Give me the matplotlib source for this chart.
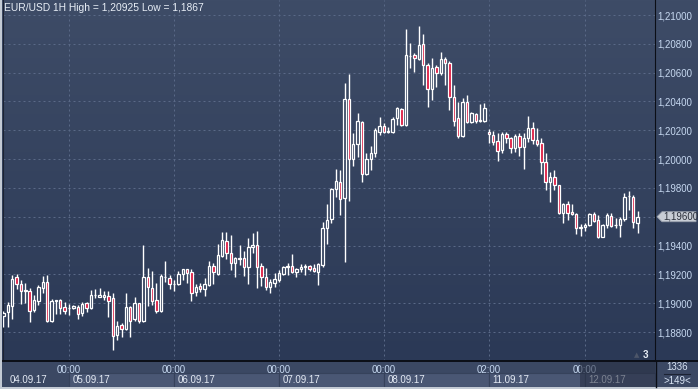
import numpy as np
import matplotlib
matplotlib.use("Agg")
import matplotlib.pyplot as plt
from matplotlib.patches import Rectangle, Polygon
from matplotlib.colors import LinearSegmentedColormap

plt.rcParams['font.family'] = ['Liberation Sans', 'DejaVu Sans']

# EUR/USD hourly candles, 04.09.17 09:00 .. 12.09.17
opens = [
    1.18910, 1.18941, 1.18983, 1.19180, 1.19133, 1.19087, 1.19085, 1.18953, 1.19017, 1.19107,
    1.19147, 1.18878, 1.19015, 1.19020, 1.18974, 1.18964, 1.18964, 1.18976, 1.18930, 1.19003,
    1.18967, 1.19055, 1.19045, 1.19041, 1.19048, 1.19034, 1.18779, 1.18849, 1.18819, 1.18971,
    1.18888, 1.18999, 1.18878, 1.19180, 1.19103, 1.19022, 1.18946, 1.19180, 1.19173, 1.19131,
    1.19131, 1.19203, 1.19235, 1.19218, 1.19080, 1.19119, 1.19096, 1.19126, 1.19258, 1.19203,
    1.19327, 1.19434, 1.19346, 1.19277, 1.19310, 1.19311, 1.19249, 1.19388, 1.19404, 1.19258,
    1.19180, 1.19110, 1.19142, 1.19161, 1.19203, 1.19253, 1.19258, 1.19218, 1.19235, 1.19253,
    1.19258, 1.19242, 1.19218, 1.19265, 1.19520, 1.19582, 1.19790, 1.19843, 1.19728, 1.20415,
    1.19999, 1.20105, 1.20257, 1.19897, 1.19999, 1.20040, 1.20190, 1.20230, 1.20190, 1.20190,
    1.20283, 1.20346, 1.20237, 1.20715, 1.20722, 1.20693, 1.20799, 1.20653, 1.20484, 1.20637,
    1.20595, 1.20693, 1.20665, 1.20429, 1.20283, 1.20160, 1.20398, 1.20260, 1.20313, 1.20266,
    1.20266, 1.20186, 1.20167, 1.20128, 1.20063, 1.20174, 1.20144, 1.20075, 1.20160, 1.20082,
    1.20144, 1.20214, 1.20133, 1.20114, 1.19980, 1.19839, 1.19874, 1.19818, 1.19624, 1.19688,
    1.19631, 1.19619, 1.19524, 1.19527, 1.19543, 1.19619, 1.19577, 1.19461, 1.19543, 1.19605,
    1.19543, 1.19543, 1.19582, 1.19742, 1.19739, 1.19559,
]
highs = [
    1.18945, 1.19010, 1.19196, 1.19203, 1.19161, 1.19140, 1.19103, 1.19057, 1.19126, 1.19189,
    1.19194, 1.19027, 1.19022, 1.19027, 1.19010, 1.18994, 1.18987, 1.18985, 1.19010, 1.19010,
    1.19092, 1.19096, 1.19103, 1.19085, 1.19087, 1.19069, 1.18878, 1.18860, 1.19069, 1.18980,
    1.19041, 1.19003, 1.19404, 1.19242, 1.19223, 1.19138, 1.19203, 1.19293, 1.19196, 1.19161,
    1.19223, 1.19235, 1.19237, 1.19235, 1.19131, 1.19142, 1.19173, 1.19293, 1.19277, 1.19409,
    1.19496, 1.19496, 1.19473, 1.19318, 1.19404, 1.19364, 1.19450, 1.19485, 1.19503, 1.19281,
    1.19242, 1.19166, 1.19212, 1.19230, 1.19258, 1.19277, 1.19341, 1.19242, 1.19272, 1.19272,
    1.19265, 1.19272, 1.19277, 1.19566, 1.19688, 1.19797, 1.19929, 1.19924, 1.20530, 1.20591,
    1.20179, 1.20318, 1.20264, 1.20040, 1.20091, 1.20214, 1.20290, 1.20248, 1.20221, 1.20290,
    1.20359, 1.20353, 1.20901, 1.20808, 1.20734, 1.20925, 1.20868, 1.20665, 1.20699, 1.20653,
    1.20743, 1.20706, 1.20683, 1.20514, 1.20398, 1.20422, 1.20445, 1.20329, 1.20322, 1.20382,
    1.20391, 1.20207, 1.20197, 1.20183, 1.20190, 1.20190, 1.20155, 1.20174, 1.20183, 1.20179,
    1.20299, 1.20260, 1.20214, 1.20144, 1.20044, 1.19913, 1.19924, 1.19820, 1.19697, 1.19711,
    1.19688, 1.19628, 1.19550, 1.19554, 1.19628, 1.19635, 1.19612, 1.19550, 1.19624, 1.19628,
    1.19589, 1.19596, 1.19767, 1.19781, 1.19751, 1.19643,
]
lows = [
    1.18837, 1.18837, 1.18890, 1.19098, 1.18992, 1.19001, 1.18872, 1.18941, 1.18987, 1.19073,
    1.18872, 1.18869, 1.18925, 1.18925, 1.18925, 1.18918, 1.18958, 1.18892, 1.18913, 1.18941,
    1.18960, 1.19034, 1.19041, 1.19022, 1.18906, 1.18675, 1.18745, 1.18767, 1.18814, 1.18767,
    1.18878, 1.18860, 1.18872, 1.18980, 1.18987, 1.18930, 1.18941, 1.19149, 1.19096, 1.19087,
    1.19126, 1.19161, 1.19142, 1.19017, 1.19050, 1.19080, 1.19050, 1.19119, 1.19133, 1.19196,
    1.19318, 1.19304, 1.19230, 1.19180, 1.19265, 1.19189, 1.19133, 1.19346, 1.19103, 1.19119,
    1.19092, 1.19073, 1.19110, 1.19149, 1.19196, 1.19196, 1.19212, 1.19180, 1.19218, 1.19196,
    1.19225, 1.19218, 1.19126, 1.19253, 1.19411, 1.19559, 1.19735, 1.19612, 1.19288, 1.19711,
    1.19952, 1.20012, 1.19843, 1.19890, 1.19924, 1.20012, 1.20167, 1.20179, 1.20179, 1.20183,
    1.20237, 1.20230, 1.20230, 1.20630, 1.20607, 1.20688, 1.20514, 1.20364, 1.20410, 1.20502,
    1.20584, 1.20514, 1.20341, 1.20230, 1.20144, 1.20155, 1.20248, 1.20248, 1.20248, 1.20260,
    1.20260, 1.20110, 1.20098, 1.19989, 1.20044, 1.20110, 1.20040, 1.20051, 1.20021, 1.19929,
    1.20121, 1.20103, 1.20091, 1.19897, 1.19786, 1.19704, 1.19786, 1.19619, 1.19559, 1.19577,
    1.19612, 1.19480, 1.19466, 1.19503, 1.19536, 1.19566, 1.19450, 1.19457, 1.19520, 1.19527,
    1.19520, 1.19457, 1.19572, 1.19647, 1.19520, 1.19485,
]
closes = [
    1.18930, 1.18987, 1.19166, 1.19131, 1.19087, 1.19092, 1.18948, 1.19022, 1.19114, 1.19147,
    1.18874, 1.19017, 1.19020, 1.18964, 1.18948, 1.18967, 1.18980, 1.18925, 1.18994, 1.18964,
    1.19057, 1.19057, 1.19057, 1.19057, 1.19017, 1.18774, 1.18842, 1.18819, 1.18971, 1.18878,
    1.18999, 1.18878, 1.19180, 1.19110, 1.19017, 1.18948, 1.19189, 1.19182, 1.19131, 1.19133,
    1.19203, 1.19235, 1.19212, 1.19073, 1.19110, 1.19096, 1.19131, 1.19258, 1.19214, 1.19334,
    1.19439, 1.19346, 1.19277, 1.19311, 1.19311, 1.19249, 1.19388, 1.19404, 1.19253, 1.19180,
    1.19110, 1.19149, 1.19166, 1.19207, 1.19253, 1.19255, 1.19218, 1.19235, 1.19253, 1.19255,
    1.19235, 1.19225, 1.19272, 1.19520, 1.19577, 1.19790, 1.19850, 1.19721, 1.20415, 1.19999,
    1.20105, 1.20264, 1.19897, 1.19999, 1.20040, 1.20202, 1.20230, 1.20190, 1.20192, 1.20276,
    1.20353, 1.20237, 1.20722, 1.20717, 1.20699, 1.20792, 1.20653, 1.20484, 1.20630, 1.20600,
    1.20693, 1.20665, 1.20429, 1.20266, 1.20160, 1.20398, 1.20260, 1.20318, 1.20266, 1.20268,
    1.20353, 1.20172, 1.20121, 1.20058, 1.20174, 1.20144, 1.20075, 1.20160, 1.20082, 1.20144,
    1.20214, 1.20133, 1.20105, 1.19980, 1.19839, 1.19874, 1.19820, 1.19624, 1.19688, 1.19624,
    1.19617, 1.19520, 1.19526, 1.19543, 1.19619, 1.19572, 1.19461, 1.19543, 1.19612, 1.19536,
    1.19545, 1.19582, 1.19739, 1.19745, 1.19566, 1.19600,
]

# bar index of each midnight (or first bar of the day) and its labels
day_idx = [15, 39, 63, 87, 111, 133]
time_labels = ["00:00", "00:00", "00:00", "00:00", "02:00", "00:00"]
date_labels = ["04.09.17", "05.09.17", "06.09.17", "07.09.17", "08.09.17", "11.09.17", "12.09.17"]
price_ticks = [1.188, 1.190, 1.192, 1.194, 1.196, 1.198, 1.200, 1.202, 1.204, 1.206, 1.208, 1.210]

title = "EUR/USD 1H High = 1,20925 Low = 1,1867"
bars_total = 1336
bars_visible = 149

W, H = 698, 389
fig = plt.figure(figsize=(W / 100, H / 100), dpi=100)

# background
bg = fig.add_axes([0, 0, 1, 1], zorder=-1)
cmap = LinearSegmentedColormap.from_list('bg', ['#3e4c67', '#2b3956'])
bg.imshow(np.linspace(0, 1, 256).reshape(-1, 1), extent=[0, W, 361, 0], aspect='auto', cmap=cmap)
bg.add_patch(Rectangle((0, 361), W, 28, color='#3b4863'))
bg.set_xlim(0, W)
bg.set_ylim(H, 0)
bg.axis('off')

# main chart
ax = fig.add_axes([3 / W, 28 / H, 652 / W, 361 / H])
ax.patch.set_alpha(0)

o = np.array(opens)
h = np.array(highs)
l = np.array(lows)
c = np.array(closes)
x = np.arange(len(o))
up = c >= o
top = np.maximum(o, c)
bot = np.minimum(o, c)

ax.vlines(x, top, h, color='white', lw=1, zorder=3)
ax.vlines(x, l, bot, color='white', lw=1, zorder=3)
ax.bar(x[up], (top - bot)[up], bottom=bot[up], width=0.55, facecolor='none',
       edgecolor='white', linewidth=0.9, zorder=3)
ax.bar(x[~up], (top - bot)[~up], bottom=bot[~up], width=0.55, facecolor='#dc143c',
       edgecolor='white', linewidth=0.9, zorder=3)

ax.set_xlim(-0.1, 149.0)
ax.set_ylim(1.185988, 1.211041)

ax.set_xticks(day_idx)
ax.set_xticklabels(time_labels)
ax.yaxis.tick_right()
ax.set_yticks(price_ticks)
ax.set_yticklabels(['' if abs(v - closes[-1]) < 1e-6 else f"{v:.5f}".replace('.', ',')
                    for v in price_ticks])
ax.tick_params(axis='x', length=0, pad=2.6, colors='#c6d8f0', labelsize=7)
ax.tick_params(axis='y', length=0, pad=2, colors='#c6d8f0', labelsize=7)
ax.grid(True, color='#5a6987', lw=0.72, ls=(0, (2, 3)))
ax.set_axisbelow(True)

ax.spines['top'].set_visible(False)
ax.spines['left'].set_color('#1c2333')
ax.spines['right'].set_color('#0b0e16')
ax.spines['bottom'].set_color('#0b0e16')
ax.spines['bottom'].set_linewidth(1.4)

# date row boxes
xt = ax.get_xaxis_transform()
starts = day_idx + [ax.get_xlim()[1]]
for s, e in zip(starts[:-1], starts[1:]):
    ax.add_patch(Rectangle((s, -0.072), e - s, 0.038, transform=xt, clip_on=False,
                           fc='#4a5774', ec='#36425b', lw=0.8, zorder=0.5))
label_pos = [1.5] + [d + 0.8 for d in day_idx]
for pos, lab in zip(label_pos, date_labels):
    ax.text(pos, -0.052, lab, transform=xt, ha='left', va='center', fontsize=7,
            color='#e4eaf4', clip_on=False)

# overlay decorations (pixel coordinates, origin top-left)
ov = fig.add_axes([0, 0, 1, 1], zorder=10)
ov.set_xlim(0, W)
ov.set_ylim(H, 0)
ov.axis('off')
ov.patch.set_alpha(0)
ov.add_patch(Rectangle((580, 362), 75, 25, fc='#262d40', alpha=0.55, lw=0))
ov.add_patch(Rectangle((0, 0), 2, H, fc='#c3cad4', lw=0))
ov.add_patch(Rectangle((0, 387), W, 2, fc='#c3cad4', lw=0))
ov.plot([655.5, 655.5], [361, 387], color='#0b0e16', lw=1)
ov.plot([655, W], [361, 361], color='#0b0e16', lw=1.4)
ov.text(4, 8, title, ha='left', va='center', fontsize=7.4, color='#e8eef6')
ov.text(677, 367.5, str(bars_total), ha='center', va='center', fontsize=7, color='#d8e4f4')
ov.plot([664, 690], [373.5, 373.5], color='#1c2333', lw=0.8)
ov.text(677, 381, f">{bars_visible}<", ha='center', va='center', fontsize=7, color='#d8e4f4')
ov.text(637, 355, "\u25b2", ha='center', va='center', fontsize=5, color='#4d5669',
        family='DejaVu Sans')
ov.text(645.5, 354.5, "3", ha='center', va='center', fontsize=7, color='#e8eef6',
        fontweight='bold')

# last price marker, placed at the close's height on the price scale
y_last = H - ax.transData.transform((0, closes[-1]))[1]
ov.add_patch(Polygon([(657, y_last), (662, y_last - 5), (696, y_last - 5),
                      (696, y_last + 5), (662, y_last + 5)], closed=True,
                     fc='#c8cdd5', ec='#9aa1ad', lw=0.6))
ov.text(663.5, y_last, f"{closes[-1]:.5f}".replace('.', ','), ha='left', va='center',
        fontsize=7, color='#2a2f3a')

fig.savefig("out.png", dpi=100)
